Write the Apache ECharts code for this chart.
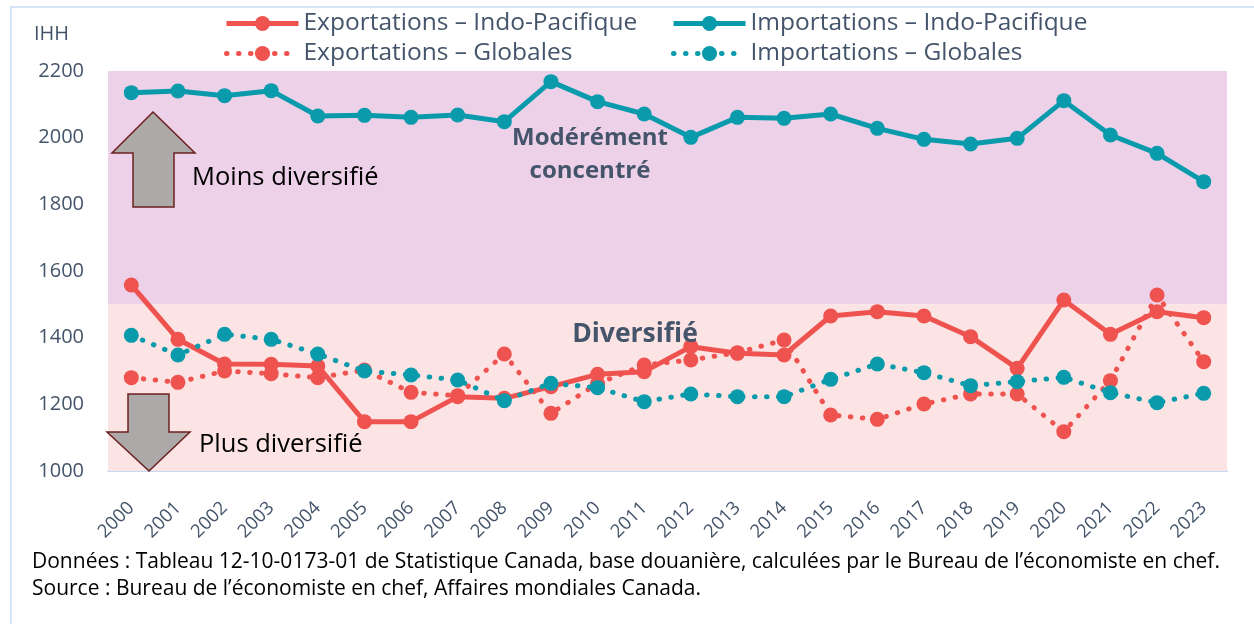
<!DOCTYPE html>
<html><head><meta charset="utf-8">
<script src="https://cdn.jsdelivr.net/npm/echarts@6/dist/echarts.min.js"></script>
<style>html,body{margin:0;padding:0;background:#fff}#c{width:1254px;height:624px}</style>
</head><body><div id="c"></div>
<script>
const years = ['2000','2001','2002','2003','2004','2005','2006','2007','2008','2009','2010','2011','2012','2013','2014','2015','2016','2017','2018','2019','2020','2021','2022','2023'];
const expIndoPac = [1558,1395,1321,1320,1315,1148,1148,1223,1218,1253,1290,1298,1373,1353,1348,1465,1478,1465,1403,1308,1513,1410,1478,1460];
const impIndoPac = [2135,2140,2126,2141,2065,2067,2061,2068,2048,2168,2108,2071,2001,2061,2058,2071,2028,1995,1981,1998,2111,2008,1953,1868];
const expGlob = [1280,1266,1300,1292,1280,1303,1236,1226,1351,1173,1262,1318,1333,1355,1393,1168,1155,1201,1231,1231,1118,1271,1528,1328];
const impGlob = [1407,1348,1410,1395,1351,1300,1288,1273,1211,1263,1250,1208,1231,1223,1223,1275,1321,1295,1256,1268,1281,1235,1205,1233];
const yTicks = {min:1000, max:2200, interval:200};
const names = ['Exportations – Indo-Pacifique','Importations – Indo-Pacifique','Exportations – Globales','Importations – Globales'];

const RED = '#EF5350', TEAL = '#099BAC', TXT = '#44546A', FF = 'Open Sans';
const chart = echarts.init(document.getElementById('c'));
function leg(name, left, top){
  return {data:[name], left:left, top:top, itemWidth:72, itemHeight:19, itemGap:0, padding:0,
    selectedMode:false, lineStyle:{width:5}, textStyle:{fontSize:24.5, color:TXT, fontFamily:FF}};
}
const dotted = {width:5, type:[0.5,11.5], cap:'round'};
chart.setOption({
  animation:false,
  legend:[leg(names[0],224,11), leg(names[1],671,11), leg(names[2],224,41), leg(names[3],671,41)],
  grid:{left:108, right:27, top:71, bottom:153},
  xAxis:{type:'category', data:years, boundaryGap:true,
    axisLine:{lineStyle:{color:'#C5D9F1', width:2}}, axisTick:{show:false},
    axisLabel:{rotate:45, fontSize:18.5, color:TXT, fontFamily:FF, margin:34, interval:0}},
  yAxis:{type:'value', min:yTicks.min, max:yTicks.max, interval:yTicks.interval,
    axisLine:{show:false}, axisTick:{show:false}, splitLine:{show:false},
    axisLabel:{fontSize:20, color:TXT, fontFamily:FF, margin:24, formatter:v => String(v)}},
  series:[
    {name:names[0], type:'line', data:expIndoPac, symbol:'circle', symbolSize:15, z:3,
      itemStyle:{color:RED}, lineStyle:{color:RED, width:5},
      markArea:{silent:true, data:[
        [{yAxis:1500, itemStyle:{color:'#EDD1E8'}},{yAxis:2200}],
        [{yAxis:1000, itemStyle:{color:'#FCE4E4'}},{yAxis:1500}]
      ]}},
    {name:names[1], type:'line', data:impIndoPac, symbol:'circle', symbolSize:15, z:4,
      itemStyle:{color:TEAL}, lineStyle:{color:TEAL, width:5}},
    {name:names[2], type:'line', data:expGlob, symbol:'circle', symbolSize:15, z:5,
      itemStyle:{color:RED}, lineStyle:Object.assign({color:RED}, dotted)},
    {name:names[3], type:'line', data:impGlob, symbol:'circle', symbolSize:15, z:6,
      itemStyle:{color:TEAL}, lineStyle:Object.assign({color:TEAL}, dotted)}
  ],
  graphic:[
    {type:'rect', z:0, shape:{x:11, y:7, width:1400, height:800}, style:{fill:'none', stroke:'#C9DDF2', lineWidth:1.5}},
    {type:'text', z:100, x:34, y:34, style:{text:'IHH', fontSize:20, fill:TXT, fontFamily:FF, verticalAlign:'middle'}},
    {type:'polygon', z:100, shape:{points:[[153,112],[195,153],[174,153],[174,207],[133,207],[133,153],[112,153]]},
      style:{fill:'#ADA9A8', stroke:'#6B2020', lineWidth:1.5}},
    {type:'polygon', z:100, shape:{points:[[128,394],[169,394],[169,432],[190,432],[149,471],[107,432],[128,432]]},
      style:{fill:'#ADA9A8', stroke:'#6B2020', lineWidth:1.5}},
    {type:'text', z:100, x:192, y:178, style:{text:'Moins diversifié', fontSize:25.5, fill:'#000', fontFamily:FF, verticalAlign:'middle'}},
    {type:'text', z:100, x:199, y:445, style:{text:'Plus diversifié', fontSize:25.5, fill:'#000', fontFamily:FF, verticalAlign:'middle'}},
    {type:'text', z:100, x:590, y:155, style:{text:'Modérément\nconcentré', fontSize:24, fontWeight:'bold', fill:TXT, fontFamily:FF, align:'center', verticalAlign:'middle', lineHeight:33}},
    {type:'text', z:100, x:635, y:334, style:{text:'Diversifié', fontSize:26.5, fontWeight:'bold', fill:TXT, fontFamily:FF, align:'center', verticalAlign:'middle'}},
    {type:'text', z:100, x:32, y:562, style:{text:'Données : Tableau 12-10-0173-01 de Statistique Canada, base douanière, calculées par le Bureau de l’économiste en chef.', fontSize:21, fill:'#000', fontFamily:FF, verticalAlign:'middle'}},
    {type:'text', z:100, x:32, y:589, style:{text:'Source : Bureau de l’économiste en chef, Affaires mondiales Canada.', fontSize:21, fill:'#000', fontFamily:FF, verticalAlign:'middle'}}
  ]
});
</script></body></html>
